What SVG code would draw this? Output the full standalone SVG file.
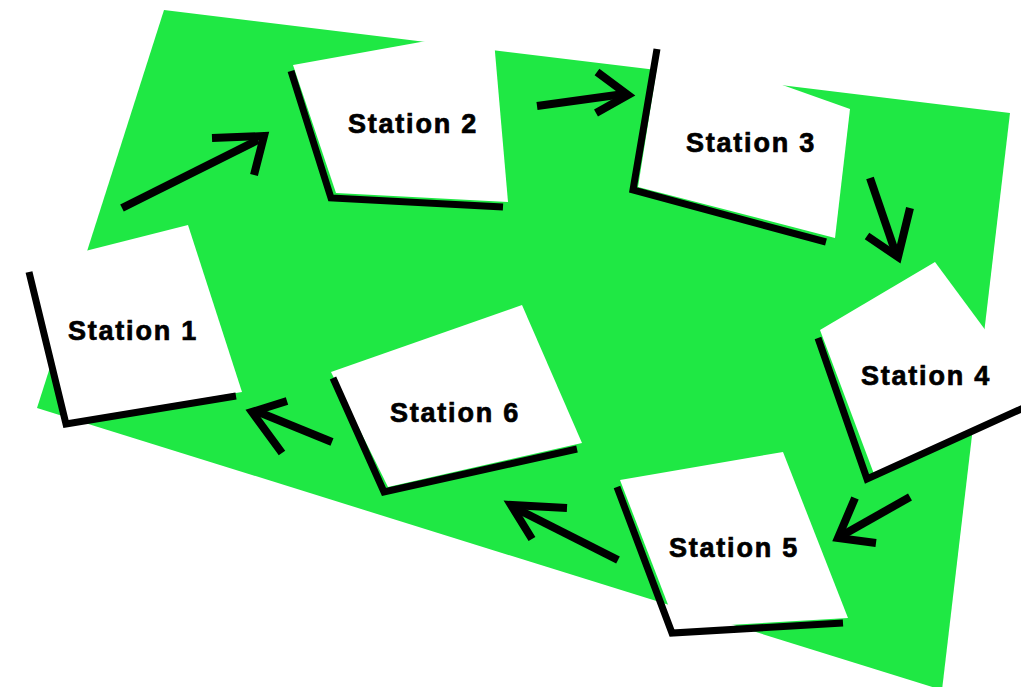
<svg xmlns="http://www.w3.org/2000/svg" width="1021" height="687" viewBox="0 0 1021 687">
<style>
.bg{fill:#1fe844}
.card{fill:#ffffff}
.edge{fill:none;stroke:#000;stroke-width:7;stroke-linejoin:miter;stroke-linecap:butt}
.lbl{font-family:"Liberation Sans",Arial,sans-serif;font-weight:700;font-size:27px;letter-spacing:1.8px;fill:#000;stroke:#000;stroke-width:0.7px;text-anchor:middle}
.arr{fill:none;stroke:#000;stroke-width:8;stroke-linecap:butt;stroke-linejoin:miter}
</style>
<rect x="0" y="0" width="1021" height="687" fill="#ffffff"/>
<polygon class="bg" points="164,10 1010,113 942,690 37,408"/>
<g id="station1">
<polygon class="card" points="30,265 188,225 242,392 68,421"/>
<polyline class="edge" points="29,272 66,424 236,396"/>
<text class="lbl" x="133" y="340">Station 1</text>
</g>
<g id="station2">
<polygon class="card" points="293,65 493,29 508,202 336,193"/>
<polyline class="edge" points="291,71 331,198 503,207"/>
<text class="lbl" x="413" y="133">Station 2</text>
</g>
<g id="station3">
<polygon class="card" points="661,42 850,109 835,238 638,187"/>
<polyline class="edge" points="657,49 633,190 826,242"/>
<text class="lbl" x="751" y="152">Station 3</text>
</g>
<g id="station4">
<polygon class="card" points="820,330 935,262 1040,404 874,474"/>
<polyline class="edge" points="818,338 867,479 1030,405"/>
<text class="lbl" x="926" y="385">Station 4</text>
</g>
<g id="station5">
<polygon class="card" points="620,480 783,452 848,618 677,628"/>
<polyline class="edge" points="617,487 672,633 843,623"/>
<text class="lbl" x="734" y="557">Station 5</text>
</g>
<g id="station6">
<polygon class="card" points="331,372 522,305 582,443 388,487"/>
<polyline class="edge" points="333,378 384,492 577,449"/>
<text class="lbl" x="455" y="422">Station 6</text>
</g>
<g id="connectors">
<line class="arr" x1="122" y1="208" x2="258" y2="140"/>
<polyline class="arr" points="212,138 264,136 254,175"/>
<line class="arr" x1="537" y1="106" x2="624" y2="94"/>
<polyline class="arr" points="597,72 628,95 596,113"/>
<line class="arr" x1="870" y1="178" x2="896" y2="254"/>
<polyline class="arr" points="867,236 898,257 910,208"/>
<line class="arr" x1="910" y1="497" x2="841" y2="536"/>
<polyline class="arr" points="855,498 838,538 876,543"/>
<line class="arr" x1="618" y1="560" x2="515" y2="508"/>
<polyline class="arr" points="567,508 511,505 532,539"/>
<line class="arr" x1="332" y1="442" x2="256" y2="411"/>
<polyline class="arr" points="287,401 252,412 282,453"/>
</g>
</svg>
